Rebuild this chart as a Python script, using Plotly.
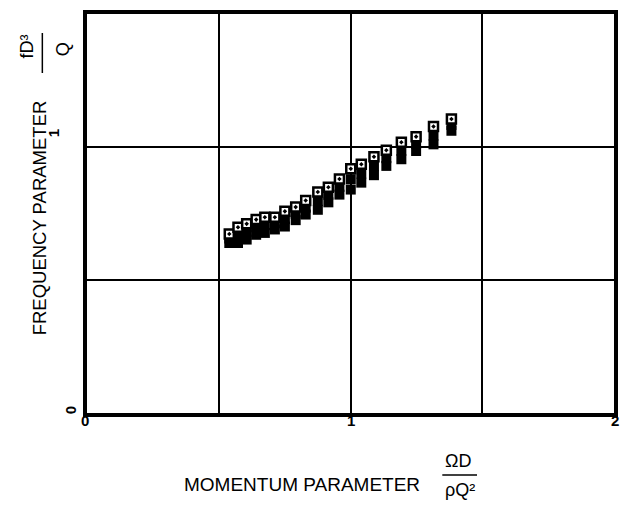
import plotly.graph_objects as go

# Momentum parameter (x) and frequency parameter (y) for three test series
momentum = [0.540, 0.573, 0.606, 0.642, 0.675, 0.713, 0.751, 0.792, 0.830, 0.876,
            0.916, 0.958, 1.001, 1.041, 1.089, 1.136, 1.193, 1.249, 1.315, 1.383]
freq_open = [0.673, 0.698, 0.711, 0.727, 0.736, 0.736, 0.758, 0.774, 0.799, 0.831,
             0.849, 0.880, 0.918, 0.935, 0.963, 0.988, 1.018, 1.039, 1.077, 1.105]
freq_mid = [0.656, 0.668, 0.681, 0.698, 0.706, 0.713, 0.729, 0.749, 0.772, 0.797,
            0.820, 0.850, 0.879, 0.900, 0.928, 0.958, 0.986, 1.012, 1.043, 1.083]
freq_low = [0.639, 0.639, 0.652, 0.670, 0.677, 0.690, 0.701, 0.725, 0.746, 0.764,
            0.792, 0.821, 0.840, 0.866, 0.894, 0.929, 0.954, 0.985, 1.010, 1.061]

x_ticks = [0, 1, 2]
x_tick_text = ["0", "1", "2"]
y_ticks = [0, 1]
y_tick_text = ["0", "1"]

FONT = "Liberation Sans, Arial, sans-serif"

W, H = 627, 513
L, R, T, B = 87, 9, 14, 100
pw, ph = W - L - R, H - T - B


def px(xp, yp):
    """Pixel position on the page -> paper coordinates."""
    return (xp - L) / pw, (H - B - yp) / ph


fig = go.Figure()
fig.add_trace(go.Scatter(x=momentum, y=freq_low, mode="markers",
                         marker=dict(symbol="square", size=10, color="black"),
                         showlegend=False))
fig.add_trace(go.Scatter(x=momentum, y=freq_mid, mode="markers",
                         marker=dict(symbol="square", size=10, color="black"),
                         showlegend=False))
fig.add_trace(go.Scatter(x=momentum, y=freq_open, mode="markers",
                         marker=dict(symbol="square-dot", size=9, color="white",
                                     line=dict(color="black", width=2.5)),
                         showlegend=False))

grid = dict(showgrid=True, gridcolor="black", gridwidth=1.5)
axis = dict(zeroline=False, showline=True, linecolor="black", linewidth=3.5,
            mirror=True, ticks="", showticklabels=False, dtick=0.5, **grid)
fig.update_xaxes(range=[0, 2], **axis)
fig.update_yaxes(range=[0, 1.5], **axis)


def note(xp, yp, text, size=17, angle=0, weight="normal"):
    xx, yy = px(xp, yp)
    return dict(x=xx, y=yy, xref="paper", yref="paper", text=text,
                showarrow=False, textangle=angle, xanchor="center", yanchor="middle",
                font=dict(family=FONT, size=size, color="black", weight=weight))


ann = []
# x tick labels just under the frame
for v, t in zip(x_ticks, x_tick_text):
    xp = L + v / 2 * pw
    ann.append(note(xp + (-2 if v == 0 else 1 if v == 2 else 0), 420, t,
                    size=15, weight="bold"))
# rotated y tick labels
ann.append(note(70, 410, y_tick_text[0], size=15, angle=-90, weight="bold"))
ann.append(note(53, 133, y_tick_text[1], size=15, angle=-90, weight="bold"))

ann += [
    # y-axis title and fraction
    note(39, 218, "FREQUENCY PARAMETER", size=18.5, angle=-90),
    note(27, 46, "fD³", size=18, angle=-90),
    note(63, 49, "Q", size=18, angle=-90),
    # x-axis title and fraction
    note(304, 484, "MOMENTUM PARAMETER", size=19),
    note(461, 461, "ΩD", size=18),
    note(463, 490, "ρQ²", size=18),
]

shapes = []
for (xa, ya), (xb, yb) in [((42, 33), (42, 73)), ((445, 475), (480, 475))]:
    x0, y0 = px(xa, ya)
    x1, y1 = px(xb, yb)
    shapes.append(dict(type="line", xref="paper", yref="paper",
                       x0=x0, y0=y0, x1=x1, y1=y1,
                       line=dict(color="black", width=1.5)))

fig.update_layout(width=W, height=H,
                  margin=dict(l=L, r=R, t=T, b=B),
                  paper_bgcolor="white", plot_bgcolor="white",
                  annotations=ann, shapes=shapes)

fig.write_html("out.html")
